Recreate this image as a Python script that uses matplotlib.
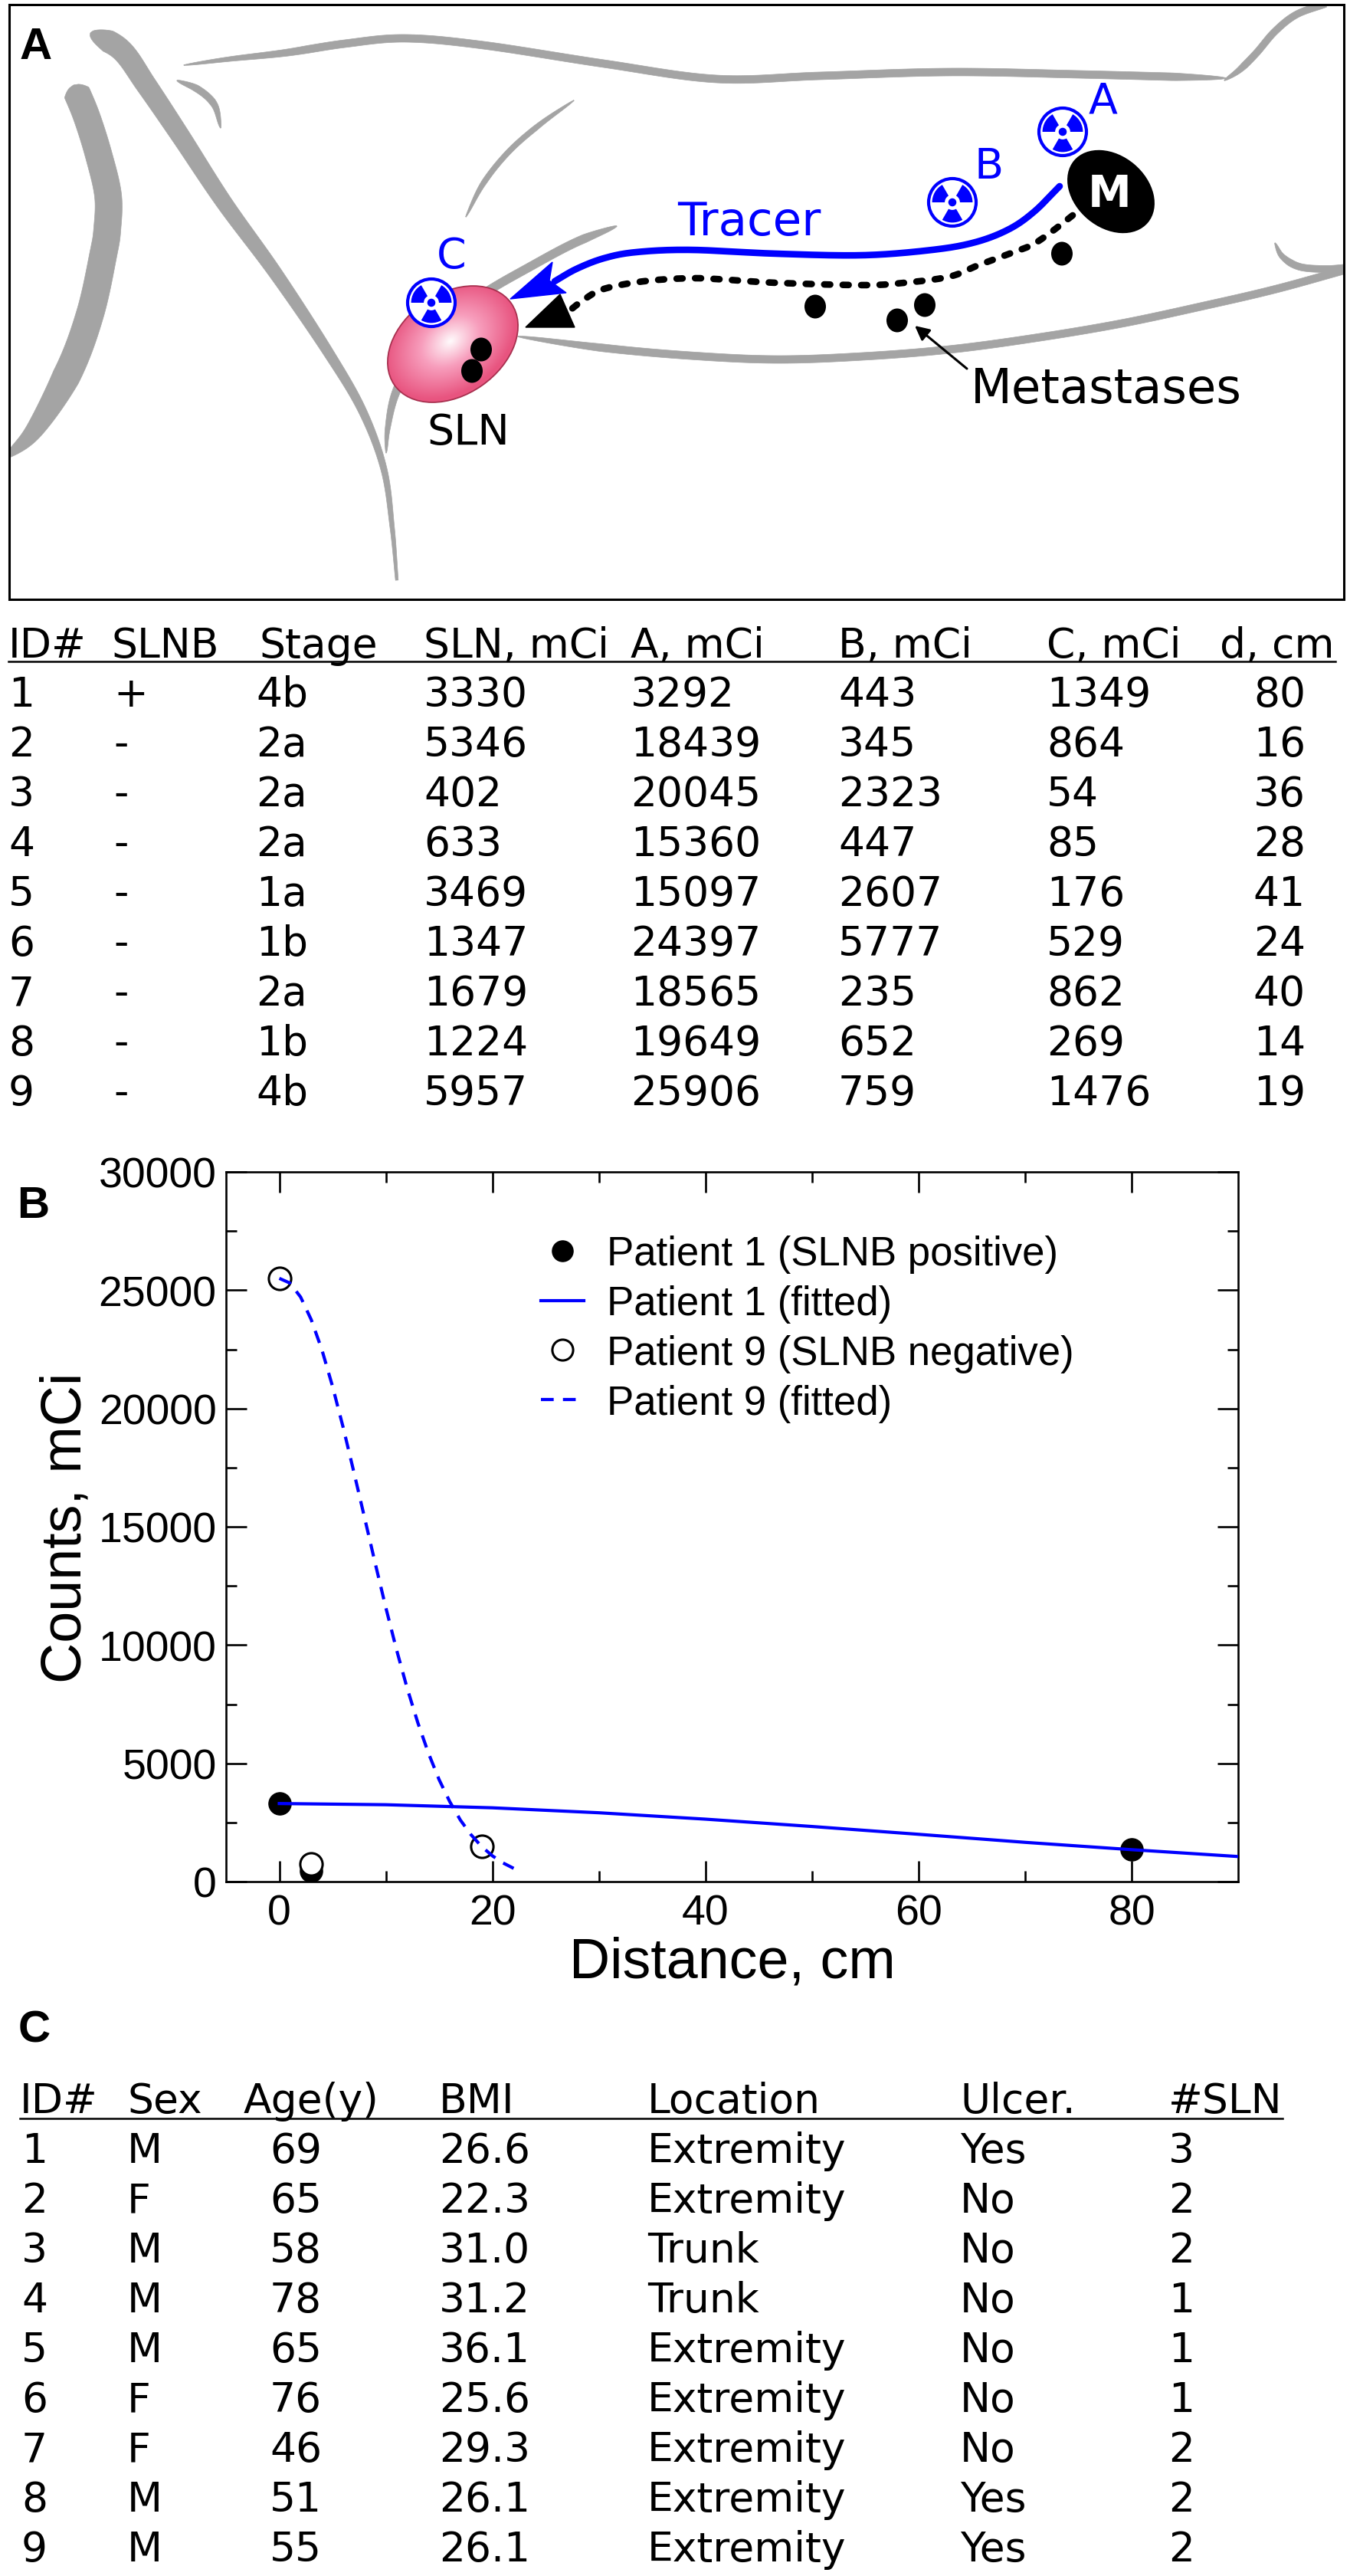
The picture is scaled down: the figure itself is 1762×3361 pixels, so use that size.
import numpy as np
import matplotlib
matplotlib.use("Agg")
import matplotlib.pyplot as plt
from matplotlib.patches import Ellipse, Polygon, Circle, Wedge, Rectangle

# ---------------- data ----------------
t1_header = ["ID#", "SLNB", "Stage", "SLN, mCi", "A, mCi", "B, mCi", "C, mCi", "d, cm"]
t1_id = [1, 2, 3, 4, 5, 6, 7, 8, 9]
t1_slnb = ["+", "-", "-", "-", "-", "-", "-", "-", "-"]
t1_stage = ["4b", "2a", "2a", "2a", "1a", "1b", "2a", "1b", "4b"]
t1_sln = [3330, 5346, 402, 633, 3469, 1347, 1679, 1224, 5957]
t1_a = [3292, 18439, 20045, 15360, 15097, 24397, 18565, 19649, 25906]
t1_b = [443, 345, 2323, 447, 2607, 5777, 235, 652, 759]
t1_c = [1349, 864, 54, 85, 176, 529, 862, 269, 1476]
t1_d = [80, 16, 36, 28, 41, 24, 40, 14, 19]

t2_header = ["ID#", "Sex", "Age(y)", "BMI", "Location", "Ulcer.", "#SLN"]
t2_id = [1, 2, 3, 4, 5, 6, 7, 8, 9]
t2_sex = ["M", "F", "M", "M", "M", "F", "F", "M", "M"]
t2_age = [69, 65, 58, 78, 65, 76, 46, 51, 55]
t2_bmi = ["26.6", "22.3", "31.0", "31.2", "36.1", "25.6", "29.3", "26.1", "26.1"]
t2_loc = ["Extremity", "Extremity", "Trunk", "Trunk", "Extremity", "Extremity",
          "Extremity", "Extremity", "Extremity"]
t2_ulcer = ["Yes", "No", "No", "No", "No", "No", "No", "Yes", "Yes"]
t2_nsln = [3, 2, 2, 1, 1, 1, 2, 2, 2]

p1_dist = [0, 3, 80]
p1_counts = [3292, 443, 1349]
p9_dist = [0, 3, 19]
p9_counts = [25500, 759, 1476]
p1_fit_x = [0, 10, 20, 30, 40, 50, 60, 70, 80, 90]
p1_fit_y = [3300, 3250, 3120, 2910, 2640, 2330, 2000, 1660, 1350, 1060]
p9_fit_x = [0, 1, 2, 3, 4, 5, 6, 7, 8, 9, 10, 11, 12, 13, 14, 15, 16, 17, 18, 19, 20, 21, 22]
p9_fit_y = [25500, 25300, 24710, 23750, 22480, 20930, 19190, 17310, 15390, 13460,
            11580, 9810, 8180, 6720, 5430, 4310, 3380, 2600, 1980, 1480, 1090, 790, 560]
legend_labels = ["Patient 1 (SLNB positive)", "Patient 1 (fitted)",
                 "Patient 9 (SLNB negative)", "Patient 9 (fitted)"]

# ---------------- figure ----------------
W, H = 1762, 3362
BLUE = "#0000ff"
GRAY = "#a4a4a4"
fig = plt.figure(figsize=(W / 100, H / 100), dpi=100)
ax0 = fig.add_axes([0, 0, 1, 1])
ax0.set_xlim(0, W)
ax0.set_ylim(H, 0)
ax0.axis("off")


def catmull(pts, n=30):
    pts = np.asarray(pts, float)
    P = np.vstack([2 * pts[0] - pts[1], pts, 2 * pts[-1] - pts[-2]])
    out = []
    for i in range(1, len(P) - 2):
        p0, p1, p2, p3 = P[i - 1], P[i], P[i + 1], P[i + 2]
        t = np.linspace(0, 1, n, endpoint=False)[:, None]
        out.append(0.5 * ((2 * p1) + (-p0 + p2) * t + (2 * p0 - 5 * p1 + 4 * p2 - p3) * t ** 2
                          + (-p0 + 3 * p1 - 3 * p2 + p3) * t ** 3))
    out.append(pts[-1][None, :])
    return np.vstack(out)


clip_rect = Rectangle((12, 7), 1742, 776, transform=ax0.transData)


def stroke(pts, wmax, a=0.15, b=0.15, w0=1.0, w1=1.0, color=GRAY, z=1):
    c = catmull(pts)
    seg = np.hypot(*np.diff(c, axis=0).T)
    L = np.concatenate([[0], np.cumsum(seg)])
    t = L / L[-1]
    prof = w0 + (w1 - w0) * t
    if a > 0:
        prof = prof * np.sqrt(np.clip(t / a, 0, 1))
    if b > 0:
        prof = prof * np.sqrt(np.clip((1 - t) / b, 0, 1))
    w = np.maximum(wmax * prof, 1.0)
    d = np.gradient(c, axis=0)
    nv = np.stack([-d[:, 1], d[:, 0]], 1)
    nv /= np.linalg.norm(nv, axis=1)[:, None]
    left = c + nv * w[:, None] / 2
    right = c - nv * w[:, None] / 2
    p = Polygon(np.vstack([left, right[::-1]]), closed=True, fc=color, ec=color, lw=0.5, zorder=z)
    ax0.add_patch(p)
    p.set_clip_path(clip_rect)


# ---------------- panel A ----------------
ax0.add_patch(Rectangle((12, 7), 1742, 776, fc="none", ec="black", lw=2.2, zorder=10))

# body outlines
stroke([(240, 86), (300, 78), (372, 70), (450, 58), (529, 51), (631, 60), (788, 84),
        (935, 104), (1070, 100), (1239, 95), (1408, 98), (1600, 103)], 10, a=0.12, b=0.05)
stroke([(1598, 106), (1618, 92), (1640, 70), (1664, 42), (1692, 20), (1730, 6)], 9, a=0.2, b=0)
stroke([(676, 440), (788, 455), (901, 465), (1013, 470), (1126, 466), (1239, 457),
        (1351, 442), (1464, 423), (1576, 399), (1666, 378), (1760, 352)], 10, a=0.1, b=0)
stroke([(1664, 318), (1674, 336), (1696, 349), (1730, 352), (1760, 350)], 9, a=0.3, b=0)
stroke([(805, 296), (750, 318), (690, 350), (633, 383), (580, 422), (540, 470),
        (516, 515), (506, 560), (504, 592)], 11, a=0.1, b=0.2)
stroke([(608, 284), (631, 240), (664, 199), (704, 164), (749, 132)], 7, a=0.25, b=0.3)
stroke([(231, 106), (259, 118), (280, 138), (288, 168)], 9, a=0.3, b=0.4)
stroke([(118, 44), (158, 66), (191, 112), (236, 179), (293, 266), (360, 358), (428, 460),
        (473, 537), (501, 613), (512, 690), (518, 758)], 30, a=0.03, b=0.0, w0=1.0, w1=0.12)
stroke([(96, 112), (113, 153), (129, 204), (141, 256), (140, 300), (135, 332), (118, 409),
        (90, 485), (45, 562), (8, 598)], 46, a=0.02, b=0.25, w0=0.75, w1=0.8)

# SLN node with radial gradient
sln = Ellipse((591, 450), 186, 132, angle=-35, fc="none", ec="#a8304f", lw=1.3, zorder=5)
ax0.add_patch(sln)
xs = np.linspace(480, 705, 240)
ys = np.linspace(360, 545, 200)
X, Y = np.meshgrid(xs, ys)
ang = np.deg2rad(35)
u = ((X - 588) * np.cos(ang) - (Y - 446) * np.sin(ang)) / 93
v = ((X - 588) * np.sin(ang) + (Y - 446) * np.cos(ang)) / 66
r = np.clip(np.sqrt(u ** 2 + v ** 2), 0, 1)
c_in = np.array([1.0, 0.985, 0.99])
c_mid = np.array([0.97, 0.62, 0.74])
c_out = np.array([0.91, 0.33, 0.50])
img = np.where(r[..., None] < 0.45,
               c_in + (c_mid - c_in) * (r[..., None] / 0.45),
               c_mid + (c_out - c_mid) * ((r[..., None] - 0.45) / 0.55))
im = ax0.imshow(img, extent=(480, 705, 545, 360), zorder=4, interpolation="bilinear")
im.set_clip_path(sln)
ax0.set_xlim(0, W)
ax0.set_ylim(H, 0)

# metastases dots
for (cx, cy) in [(628, 457), (616, 485), (1064, 401), (1171, 419), (1207, 399), (1386, 332)]:
    ax0.add_patch(Ellipse((cx, cy), 28, 31, fc="black", ec="none", zorder=6))

# tumor M
ax0.add_patch(Ellipse((1450, 251), 126, 94, angle=40, fc="black", ec="none", zorder=6))
ax0.text(1448, 270, "M", color="white", fontsize=41, fontweight="bold", ha="center",
         va="baseline", zorder=7)

# tracer (blue) arrow
tx = [1383, 1350, 1317, 1273, 1217, 1126, 1013, 901, 830, 788, 752, 724]
ty = [244, 277, 300, 317, 327, 334, 332, 327, 330, 338, 352, 368]
tc = catmull(list(zip(tx, ty)))
ax0.plot(tc[:, 0], tc[:, 1], color=BLUE, lw=6.2, solid_capstyle="round", zorder=6)
ax0.add_patch(Polygon([(666, 391), (721, 343), (717, 367), (739, 383)], closed=True,
                      fc=BLUE, ec=BLUE, lw=1, zorder=7))
ax0.text(884, 307, "Tracer", color=BLUE, fontsize=44, va="baseline", ha="left")

# dotted (black) arrow
dx = [1400, 1373, 1348, 1323, 1277, 1239, 1180, 1126, 1013, 950, 901, 840, 788, 762, 745]
dy = [282, 303, 320, 330, 347, 362, 370, 373, 370, 366, 364, 368, 378, 392, 405]
dc = catmull(list(zip(dx, dy)))
ax0.plot(dc[:, 0], dc[:, 1], color="black", lw=6.2, ls=(0, (0.9, 1.9)),
         dash_capstyle="round", zorder=6)
ax0.add_patch(Polygon([(686, 428), (731, 385), (750, 428)], closed=True, fc="black",
                      ec="black", lw=1, zorder=7))

# radiation symbols


def radiation(cx, cy, R=33):
    ax0.add_patch(Circle((cx, cy), R - 2, fc="white", ec=BLUE, lw=3.0, zorder=8))
    for th in (90, 210, 330):
        ax0.add_patch(Wedge((cx, cy), 0.8 * R, th - 30, th + 30, width=0.8 * R - 0.3 * R,
                            fc=BLUE, ec="none", zorder=9))
    ax0.add_patch(Circle((cx, cy), 0.16 * R, fc=BLUE, ec="none", zorder=9))


radiation(1387, 173)
radiation(1243, 265)
radiation(563, 396)
ax0.text(1440, 147, "A", color=BLUE, fontsize=40, ha="center", va="baseline")
ax0.text(1291, 233, "B", color=BLUE, fontsize=40, ha="center", va="baseline")
ax0.text(589, 350, "C", color=BLUE, fontsize=40, ha="center", va="baseline")

ax0.text(557, 580, "SLN", color="black", fontsize=40, ha="left", va="baseline")
ax0.text(1267, 526, "Metastases", color="black", fontsize=45, ha="left", va="baseline")
ax0.annotate("", xy=(1194, 426), xytext=(1262, 482),
             arrowprops=dict(arrowstyle="-|>", lw=2.2, color="black", mutation_scale=28,
                             shrinkA=0, shrinkB=0), zorder=7)

# panel letters
ax0.text(26, 77, "A", fontsize=42, fontweight="bold", family="Liberation Sans", va="baseline")
ax0.text(22, 1589, "B", fontsize=42, fontweight="bold", family="Liberation Sans", va="baseline")
ax0.text(24, 2665, "C", fontsize=42, fontweight="bold", family="Liberation Sans", va="baseline")

# ---------------- table 1 ----------------
TFS = 38.5
t1_hx = [11, 145, 338, 553, 823, 1094, 1366, 1592]
for x, s in zip(t1_hx, t1_header):
    ax0.text(x, 858, s, fontsize=TFS, ha="left", va="baseline")
ax0.plot([11, 1743], [864, 864], color="black", lw=1.8)
cols1 = [t1_id, t1_slnb, t1_stage, t1_sln, t1_a, t1_b, t1_c]
t1_cx = [11, 148, 334, 553, 823, 1094, 1366]
for i in range(9):
    yb = 922 + 65 * i
    for x, col in zip(t1_cx, cols1):
        ax0.text(x, yb, str(col[i]), fontsize=TFS, ha="left", va="baseline")
    ax0.text(1704, yb, str(t1_d[i]), fontsize=TFS, ha="right", va="baseline")

# ---------------- table 2 ----------------
t2_hx = [26, 166, 318, 573, 845, 1253, 1525]
for x, s in zip(t2_hx, t2_header):
    ax0.text(x, 2757, s, fontsize=TFS, ha="left", va="baseline")
ax0.plot([26, 1674], [2765, 2765], color="black", lw=1.8)
cols2 = [t2_id, t2_sex, t2_age, t2_bmi, t2_loc, t2_ulcer, t2_nsln]
t2_cx = [28, 166, 352, 573, 845, 1253, 1525]
for i in range(9):
    yb = 2822 + 65 * i
    for x, col in zip(t2_cx, cols2):
        ax0.text(x, yb, str(col[i]), fontsize=TFS, ha="left", va="baseline")

# ---------------- panel B plot ----------------
FAM = "Liberation Sans"
axB = fig.add_axes([295 / W, 1 - 2456 / H, (1616 - 295) / W, (2456 - 1530) / H])
axB.plot(p1_dist, p1_counts, "o", color="black", ms=21, ls="none", zorder=3,
         label=legend_labels[0])
axB.plot(p1_fit_x, p1_fit_y, "-", color=BLUE, lw=3.0, zorder=5, label=legend_labels[1])
axB.plot(p9_dist, p9_counts, "o", mfc="white", mec="black", mew=2.2, ms=21, ls="none",
         zorder=4, label=legend_labels[2])
axB.plot(p9_fit_x, p9_fit_y, "--", dashes=(4.0, 2.9), color=BLUE, lw=3.0, zorder=6,
         label=legend_labels[3])
axB.set_xlim(-5, 90)
axB.set_ylim(0, 30000)
axB.set_xticks([0, 20, 40, 60, 80])
axB.set_xticks([10, 30, 50, 70], minor=True)
axB.set_yticks(np.arange(0, 30001, 5000))
axB.set_yticks(np.arange(2500, 30000, 5000), minor=True)
for sp in axB.spines.values():
    sp.set_linewidth(1.9)
axB.tick_params(which="both", direction="in", top=True, right=True, width=1.9)
axB.tick_params(which="major", length=19.5, labelsize=40)
axB.tick_params(which="minor", length=10)
axB.tick_params(axis="x", pad=11)
axB.tick_params(axis="y", pad=9)
for lab in axB.get_xticklabels() + axB.get_yticklabels():
    lab.set_family(FAM)
axB.set_xlabel("Distance, cm", fontsize=53, family=FAM, labelpad=2)
axB.set_ylabel("Counts, mCi", fontsize=53, family=FAM, labelpad=6)
axB.legend(loc="upper left", bbox_to_anchor=(0.311, 0.911), frameon=False,
           prop={"family": FAM, "size": 38}, handlelength=1.06, handletextpad=0.57,
           labelspacing=0.28, borderpad=0, borderaxespad=0, numpoints=1, markerscale=0.93)

fig.savefig("out.png", dpi=100)
